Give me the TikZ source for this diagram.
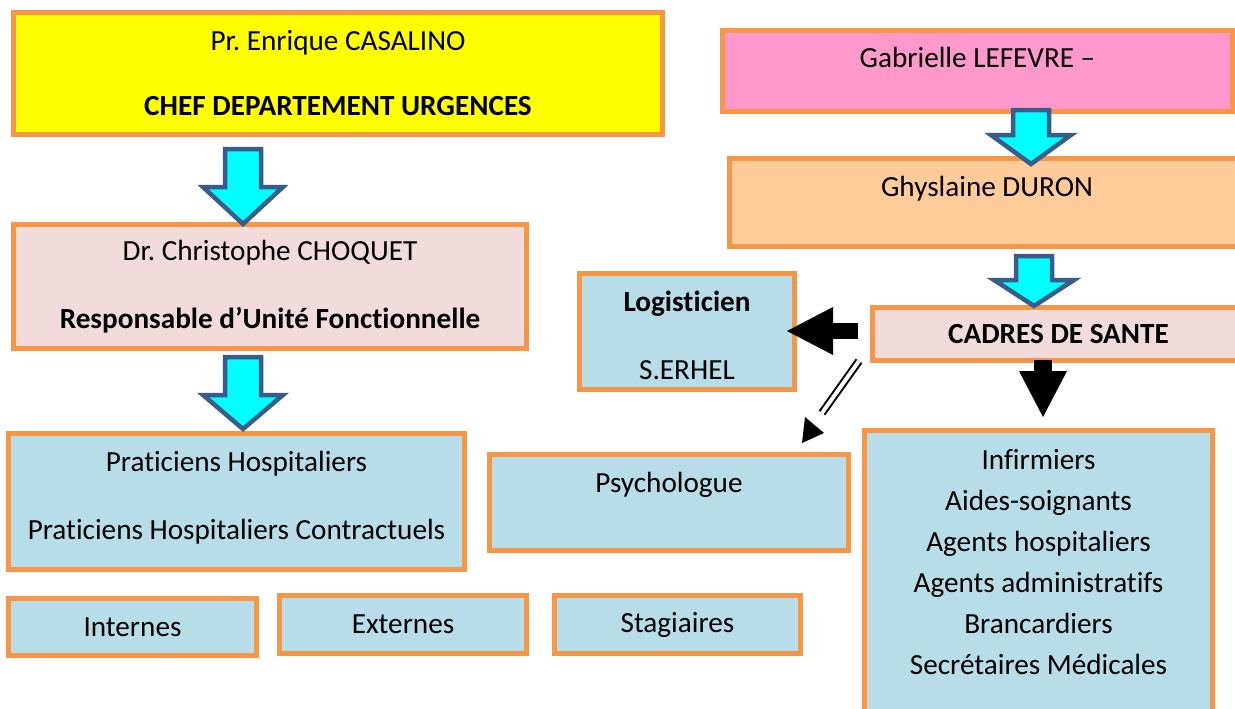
\documentclass[tikz,border=0pt]{standalone}
\usepackage{fontspec}
\setmainfont{Carlito}[Ligatures=NoCommon]
\usetikzlibrary{arrows.meta}

\definecolor{bordure}{HTML}{F79646}
\definecolor{jaune}{HTML}{FFFF00}
\definecolor{rose}{HTML}{FF99CC}
\definecolor{peche}{HTML}{FFCC99}
\definecolor{rosepale}{HTML}{F2DCDB}
\definecolor{bleupale}{HTML}{B7DDE8}
\definecolor{turquoise}{HTML}{00FFFF}
\definecolor{bleufonce}{HTML}{385D8A}

% fleche bleue : x, haut, base de la pointe, pointe
\newcommand{\flechebleue}[4]{%
  \draw[flechebleu] (#1-18,#2) -- (#1+18,#2) -- (#1+18,#3) -- (#1+40,#3)
    -- (#1,#4) -- (#1-40,#3) -- (#1-18,#3) -- cycle;}

\begin{document}
\begin{tikzpicture}[x=1pt, y=-1pt,
    font=\fontsize{29.2}{41}\selectfont,
    boite/.style={draw=bordure, line width=5pt, rectangle, align=center, inner sep=0pt},
    flechebleu/.style={draw=bleufonce, fill=turquoise, line width=4.5pt, line join=miter},
    flechenoire/.style={line width=#1, -{Triangle[length=46pt 0 0, width=48pt 0 0, line width=0pt 0 0]}},
  ]
  \useasboundingbox (0,0) rectangle (1235,709);
  \clip (0,0) rectangle (1235,709);

  % Nodes
  \node[boite, fill=jaune, minimum width=649pt, minimum height=122pt] (casalino) at (338,73.5)
    {Pr.\ Enrique CASALINO\\[24pt]\textbf{CHEF DEPARTEMENT URGENCES}};
  \node[boite, fill=rosepale, minimum width=513pt, minimum height=124pt] (choquet) at (270,286.5)
    {Dr.\ Christophe CHOQUET\\[27pt]\textbf{Responsable d’Unité Fonctionnelle}};
  \node[boite, fill=bleupale, minimum width=456pt, minimum height=136pt, text height=83pt, text depth=8pt]
    (praticiens) at (236.5,501.5)
    {Praticiens Hospitaliers\\[27pt]Praticiens Hospitaliers Contractuels};
  \node[boite, fill=bleupale, minimum width=248pt, minimum height=57pt] (internes) at (132.5,627) {Internes};
  \node[boite, fill=bleupale, minimum width=247pt, minimum height=58pt] (externes) at (403,624.5) {Externes};
  \node[boite, fill=bleupale, minimum width=246pt, minimum height=58pt] (stagiaires) at (677.5,624.5) {Stagiaires};

  \node[boite, fill=rose, minimum width=510pt, minimum height=81pt, text height=22pt, text depth=29pt]
    (lefevre) at (977.5,71) {Gabrielle LEFEVRE –};
  \node[boite, fill=peche, minimum width=515pt, minimum height=88pt, text height=22pt, text depth=34pt]
    (duron) at (987,202.5) {Ghyslaine DURON};
  \node[boite, fill=rosepale, minimum width=372pt, minimum height=53pt] (cadres) at (1058.5,334)
    {\textbf{CADRES DE SANTE}};
  \node[boite, fill=bleupale, minimum width=215pt, minimum height=116pt, text height=103pt, text depth=8pt]
    (logisticien) at (687,331.5)
    {\textbf{Logisticien}\\[27pt]S.ERHEL};
  \node[boite, fill=bleupale, minimum width=359pt, minimum height=96pt, text height=22pt, text depth=42pt]
    (psychologue) at (669,502.5) {Psychologue};
  \node[boite, fill=bleupale, minimum width=348pt, minimum height=290pt, text height=206pt, text depth=8pt]
    (infirmiers) at (1038.5,575)
    {Infirmiers\\Aides-soignants\\Agents hospitaliers\\Agents administratifs\\Brancardiers\\Secrétaires Médicales};

  % Edges
  \flechebleue{243}{149}{187}{224}
  \flechebleue{243}{357}{395}{429}
  \flechebleue{1031}{110}{135}{164}
  \flechebleue{1034}{256}{280}{306}

  \coordinate (pointeLogis) at (787,331);
  \coordinate (pointeInf) at (1043,417);
  \coordinate (debutDouble) at (859,361);
  \coordinate (finDouble) at (822,413);
  \draw[flechenoire=16pt, shorten <=12pt] (cadres.west |- pointeLogis) -- (pointeLogis);
  \draw[flechenoire=18pt, shorten <=-3pt] (cadres.south -| pointeInf) -- (pointeInf);
  \draw[double, line width=2pt, double distance=4pt] (debutDouble) -- (finDouble);
  \fill (802,443) -- (805,417) -- (824,433) -- cycle;
\end{tikzpicture}
\end{document}
